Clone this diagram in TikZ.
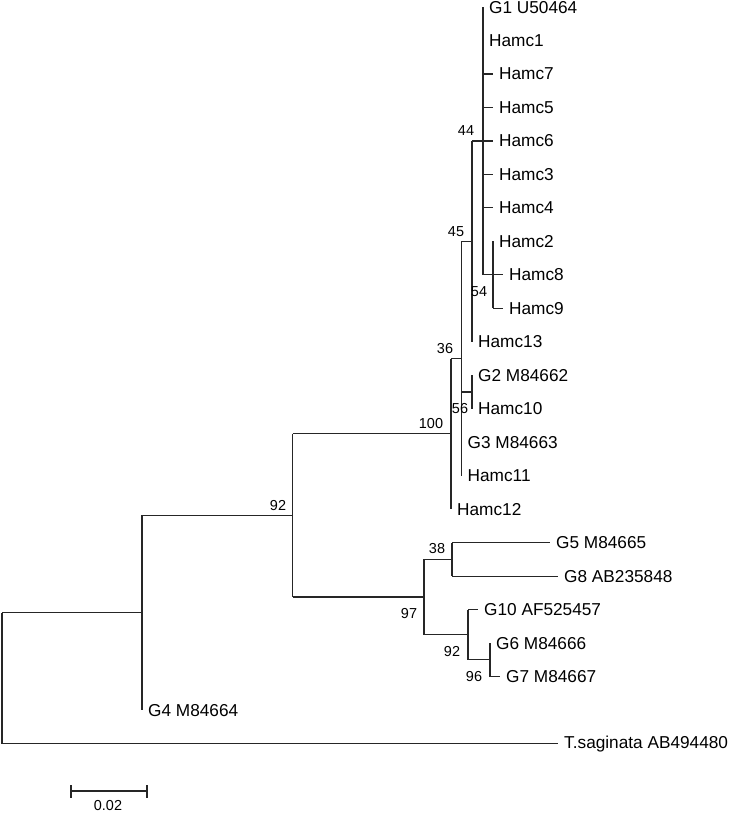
\documentclass[tikz,border=0pt]{standalone}
\usepackage{fontspec}
\setmainfont{Liberation Sans}
\begin{document}
\begin{tikzpicture}[x=1bp,y=-1bp,
  br/.style={draw=black!85, line width=1.2bp},
  lf/.style={anchor=west, inner sep=0pt, xshift=6bp, font=\fontsize{17.3}{20}\selectfont},
  bs/.style={inner sep=0pt, font=\fontsize{14.5}{17}\selectfont}]
\useasboundingbox (0,0) rectangle (735,813);
% leaves (end of branch)
\coordinate (G1) at (483,7.5);
\coordinate (Hamc1) at (483,40.48);
\coordinate (Hamc7) at (493,73.96);
\coordinate (Hamc5) at (493,107.44);
\coordinate (Hamc6) at (493,140.92);
\coordinate (Hamc3) at (493,174.4);
\coordinate (Hamc4) at (493,207.88);
\coordinate (Hamc2) at (493,241.36);
\coordinate (Hamc8) at (503,274.84);
\coordinate (Hamc9) at (503,308.32);
\coordinate (Hamc13) at (472,341.8);
\coordinate (G2) at (472,375.28);
\coordinate (Hamc10) at (472,408.76);
\coordinate (G3) at (461.5,442.24);
\coordinate (Hamc11) at (461.5,475.72);
\coordinate (Hamc12) at (451,509.2);
\coordinate (G5) at (550,542.68);
\coordinate (G8) at (558,576.16);
\coordinate (G10) at (478,609.64);
\coordinate (G6) at (490,643.12);
\coordinate (G7) at (500,676.6);
\coordinate (G4) at (142,710.08);
\coordinate (Tsag) at (558,743.56);
% internal nodes
\coordinate (n54) at (493,274.84);
\coordinate (n44) at (483,140.92);
\coordinate (n45) at (472,241.36);
\coordinate (n56) at (472,392.02);
\coordinate (n36) at (461.5,358.54);
\coordinate (n100) at (451,433.87);
\coordinate (n96) at (490,659.86);
\coordinate (n92b) at (468,634.75);
\coordinate (n38) at (452,559.42);
\coordinate (n97) at (424,597.09);
\coordinate (n92) at (292.5,515.48);
\coordinate (n1) at (142,612.78);
\coordinate (root) at (2,678);
% branches
\draw[br] (n54 |- Hamc2) -- (n54 |- Hamc9);
\foreach \c in {Hamc2,Hamc8,Hamc9} \draw[br] (n54 |- \c) -- (\c);
\draw[br] (n44 |- G1) -- (n44 |- n54);
\foreach \c in {G1,Hamc1,Hamc7,Hamc5,Hamc6,Hamc3,Hamc4,n54} \draw[br] (n44 |- \c) -- (\c);
\draw[br] (n45 |- n44) -- (n45 |- Hamc13);
\foreach \c in {n44,Hamc13} \draw[br] (n45 |- \c) -- (\c);
\draw[br] (n56 |- G2) -- (n56 |- Hamc10);
\draw[br] (n36 |- n45) -- (n36 |- Hamc11);
\foreach \c in {n45,n56,G3,Hamc11} \draw[br] (n36 |- \c) -- (\c);
\draw[br] (n100 |- n36) -- (n100 |- Hamc12);
\foreach \c in {n36,Hamc12} \draw[br] (n100 |- \c) -- (\c);
\draw[br] (n96 |- G6) -- (n96 |- G7);
\foreach \c in {G6,G7} \draw[br] (n96 |- \c) -- (\c);
\draw[br] (n92b |- G10) -- (n92b |- n96);
\foreach \c in {G10,n96} \draw[br] (n92b |- \c) -- (\c);
\draw[br] (n38 |- G5) -- (n38 |- G8);
\foreach \c in {G5,G8} \draw[br] (n38 |- \c) -- (\c);
\draw[br] (n97 |- n38) -- (n97 |- n92b);
\foreach \c in {n38,n92b} \draw[br] (n97 |- \c) -- (\c);
\draw[br] (n92 |- n100) -- (n92 |- n97);
\foreach \c in {n100,n97} \draw[br] (n92 |- \c) -- (\c);
\draw[br] (n1 |- n92) -- (n1 |- G4);
\draw[br] (n1 |- n92) -- (n92);
\draw[br] (root |- n1) -- (root |- Tsag);
\foreach \c in {n1,Tsag} \draw[br] (root |- \c) -- (\c);
% leaf labels
\node[lf] (lG1) at (G1) {G1 U50464};
\node[lf] (lHamc1) at (Hamc1) {Hamc1};
\node[lf] (lHamc7) at (Hamc7) {Hamc7};
\node[lf] (lHamc5) at (Hamc5) {Hamc5};
\node[lf] (lHamc6) at (Hamc6) {Hamc6};
\node[lf] (lHamc3) at (Hamc3) {Hamc3};
\node[lf] (lHamc4) at (Hamc4) {Hamc4};
\node[lf] (lHamc2) at (Hamc2) {Hamc2};
\node[lf] (lHamc8) at (Hamc8) {Hamc8};
\node[lf] (lHamc9) at (Hamc9) {Hamc9};
\node[lf] (lHamc13) at (Hamc13) {Hamc13};
\node[lf] (lG2) at (G2) {G2 M84662};
\node[lf] (lHamc10) at (Hamc10) {Hamc10};
\node[lf] (lG3) at (G3) {G3 M84663};
\node[lf] (lHamc11) at (Hamc11) {Hamc11};
\node[lf] (lHamc12) at (Hamc12) {Hamc12};
\node[lf] (lG5) at (G5) {G5 M84665};
\node[lf] (lG8) at (G8) {G8 AB235848};
\node[lf] (lG10) at (G10) {G10 AF525457};
\node[lf] (lG6) at (G6) {G6 M84666};
\node[lf] (lG7) at (G7) {G7 M84667};
\node[lf] (lG4) at (G4) {G4 M84664};
\node[lf] (lTsag) at (Tsag) {T.saginata AB494480};
% bootstrap values
\node[bs] (b44) at (466,131) {44};
\node[bs] (b45) at (456,232) {45};
\node[bs] (b54) at (479,292) {54};
\node[bs] (b36) at (445,349) {36};
\node[bs] (b56) at (460,409) {56};
\node[bs] (b100) at (431,424) {100};
\node[bs] (b92) at (278,506) {92};
\node[bs] (b38) at (437,549) {38};
\node[bs] (b97) at (409,614) {97};
\node[bs] (b92b) at (452,652) {92};
\node[bs] (b96) at (474,677) {96};
% scale bar
\coordinate (sA) at (71,791);
\coordinate (sB) at (147,791);
\draw[br] (sA) -- (sB);
\draw[br] ([yshift=-6.5bp]sA) -- ([yshift=6.5bp]sA);
\draw[br] ([yshift=-6.5bp]sB) -- ([yshift=6.5bp]sB);
\node[bs] (scl) at (108,805.5) {0.02};
\end{tikzpicture}
\end{document}
